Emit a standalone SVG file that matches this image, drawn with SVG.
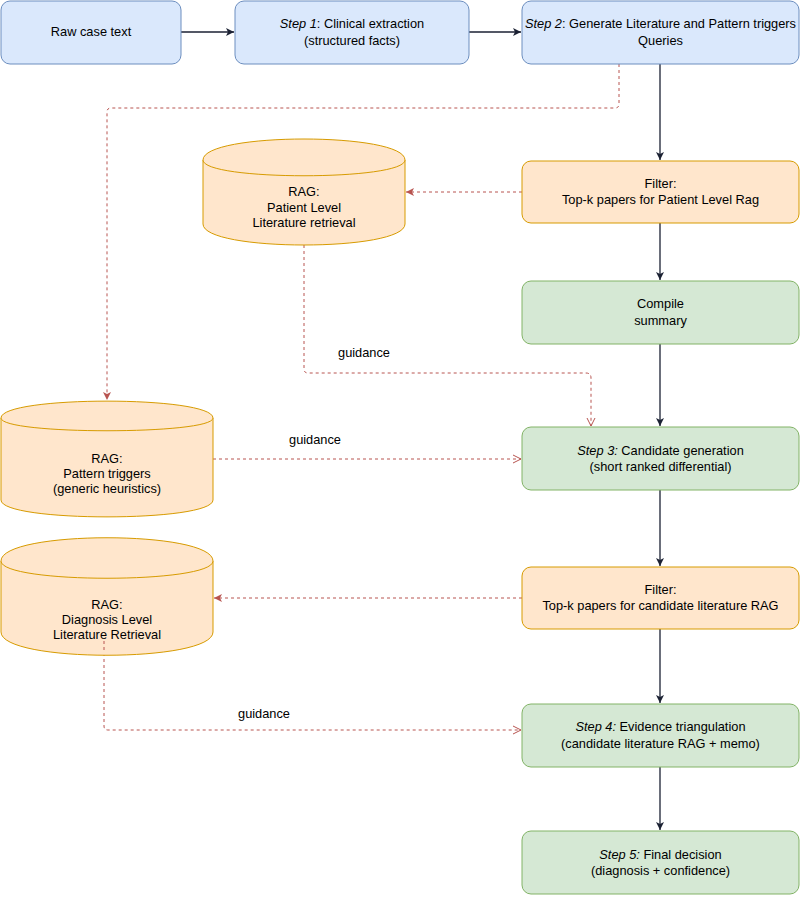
<svg xmlns="http://www.w3.org/2000/svg" width="800" height="897" viewBox="0 0 800 897">
<style>
text{font-family:"Liberation Sans",Arial,Helvetica,sans-serif;font-size:12.8px;fill:#000;text-anchor:middle}
.i{font-style:italic}
.blue{fill:#dae8fc;stroke:#6c8ebf;stroke-width:1}
.org{fill:#ffe6cc;stroke:#d79b00;stroke-width:1}
.grn{fill:#d5e8d4;stroke:#82b366;stroke-width:1}
.solid{fill:none;stroke:#1b2133;stroke-width:1.3}
.dash{fill:none;stroke:#b85450;stroke-width:1;stroke-dasharray:3 3}
</style>
<defs>
<marker id="ab" markerWidth="10" markerHeight="10" refX="9" refY="5" orient="auto" markerUnits="userSpaceOnUse"><path d="M1,1 L9,5 L1,9 L3,5 Z" fill="#1b2133"/></marker>
<marker id="rf" markerWidth="10" markerHeight="10" refX="9" refY="5" orient="auto" markerUnits="userSpaceOnUse"><path d="M1,1 L9,5 L1,9 L3,5 Z" fill="#b85450"/></marker>
<marker id="ro" markerWidth="10" markerHeight="10" refX="9" refY="5" orient="auto" markerUnits="userSpaceOnUse"><path d="M1,1 L9,5 L1,9" fill="none" stroke="#b85450" stroke-width="1"/></marker>
</defs>

<g id="connectors">
<path class="solid" d="M181,32 H234" marker-end="url(#ab)"/>
<path class="solid" d="M469,32 H521" marker-end="url(#ab)"/>
<path class="solid" d="M660,64 V160" marker-end="url(#ab)"/>
<path class="solid" d="M660,223 V280" marker-end="url(#ab)"/>
<path class="solid" d="M660,344 V426" marker-end="url(#ab)"/>
<path class="solid" d="M660,490 V566" marker-end="url(#ab)"/>
<path class="solid" d="M660,629 V703" marker-end="url(#ab)"/>
<path class="solid" d="M660,767 V830" marker-end="url(#ab)"/>
<path class="dash" d="M619,64 V104 Q619,108 615,108 H111 Q107,108 107,112 V400" marker-end="url(#rf)"/>
<path class="dash" d="M522,192 H406" marker-end="url(#rf)"/>
<path class="dash" d="M522,598 H214" marker-end="url(#rf)"/>
<path class="dash" d="M304,245 V369 Q304,373 308,373 H586 Q591,373 591,378 V426" marker-end="url(#ro)"/>
<path class="dash" d="M213,459 H521" marker-end="url(#ro)"/>
<path class="dash" d="M104,641 V726 Q104,730 108,730 H521" marker-end="url(#ro)"/>
<text x="364" y="357">guidance</text>
<text x="315" y="444">guidance</text>
<text x="264" y="718">guidance</text>
</g>

<g id="raw"><rect class="blue" x="1" y="1" width="180" height="63" rx="9"/><text x="91" y="36">Raw case text</text></g>
<g id="step1"><rect class="blue" x="235" y="1" width="234" height="63" rx="9"/><text x="352" y="28"><tspan class="i">Step 1</tspan>: Clinical extraction</text><text x="352" y="45">(structured facts)</text></g>
<g id="step2"><rect class="blue" x="522" y="1" width="277" height="63" rx="9"/><text x="660.5" y="28"><tspan class="i">Step 2</tspan>: Generate Literature and Pattern triggers</text><text x="660.5" y="45">Queries</text></g>

<g id="filter1"><rect class="org" x="522" y="161" width="277" height="62" rx="9"/><text x="660.5" y="188">Filter:</text><text x="660.5" y="204">Top-k papers for Patient Level Rag</text></g>
<g id="compile"><rect class="grn" x="522" y="281" width="277" height="63" rx="9"/><text x="660.5" y="308">Compile</text><text x="660.5" y="325">summary</text></g>
<g id="step3"><rect class="grn" x="522" y="427" width="277" height="63" rx="9"/><text x="660.5" y="455"><tspan class="i">Step 3:</tspan> Candidate generation</text><text x="660.5" y="471">(short ranked differential)</text></g>
<g id="filter2"><rect class="org" x="522" y="567" width="277" height="62" rx="9"/><text x="660.5" y="594">Filter:</text><text x="660.5" y="610">Top-k papers for candidate literature RAG</text></g>
<g id="step4"><rect class="grn" x="522" y="704" width="277" height="63" rx="9"/><text x="660.5" y="731"><tspan class="i">Step 4:</tspan> Evidence triangulation</text><text x="660.5" y="748">(candidate literature RAG + memo)</text></g>
<g id="step5"><rect class="grn" x="522" y="831" width="277" height="63" rx="9"/><text x="660.5" y="859"><tspan class="i">Step 5:</tspan> Final decision</text><text x="660.5" y="875">(diagnosis + confidence)</text></g>

<g id="rag_patient">
<path class="org" d="M203,160 C203,132 405,132 405,160 V224 C405,252 203,252 203,224 Z"/>
<path class="org" d="M203,160 C203,181 405,181 405,160" fill="none"/>
<text x="304" y="196">RAG:</text><text x="304" y="212">Patient Level</text><text x="304" y="227">Literature retrieval</text>
</g>
<g id="rag_pattern">
<path class="org" d="M1,418 C1,395.5 213,395.5 213,418 V500 C213,522.5 1,522.5 1,500 Z"/>
<path class="org" d="M1,418 C1,435 213,435 213,418" fill="none"/>
<text x="107" y="463">RAG:</text><text x="107" y="478">Pattern triggers</text><text x="107" y="493">(generic heuristics)</text>
</g>
<g id="rag_diagnosis">
<path class="org" d="M1,561 C1,530 213,530 213,561 V632 C213,663 1,663 1,632 Z"/>
<path class="org" d="M1,561 C1,584 213,584 213,561" fill="none"/>
<text x="107" y="609">RAG:</text><text x="107" y="624">Diagnosis Level</text><text x="107" y="639">Literature Retrieval</text>
</g>
<path class="dash" d="M104,641 V652"/>
</svg>
